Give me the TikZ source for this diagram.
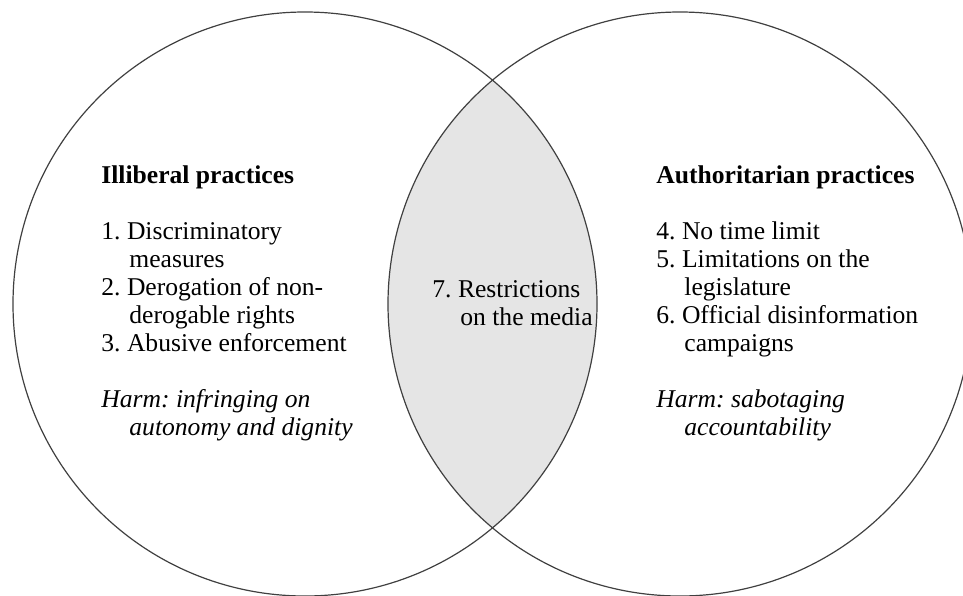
\documentclass[tikz,border=0pt]{standalone}
\usepackage{fontspec}
\setmainfont{Liberation Serif}
\usetikzlibrary{positioning}
\frenchspacing

\tikzset{
  block/.style={align=left, anchor=base west, inner sep=0pt, font=\fontsize{12.8}{14}\selectfont},
  ring/.style={draw=black!75, line width=0.6pt}
}
\newcommand{\cont}{\hspace*{14pt}}

\begin{document}
\begin{tikzpicture}[x=0.5pt,y=-0.5pt]
	\useasboundingbox (0,0) rectangle (963,595);
	\clip (0,0) rectangle (963,595);
	% shared part
	\begin{scope}
    \clip (305,304) circle(292);
    \fill[black!10] (680,304) circle(292);
	\end{scope}
	\draw[ring] (305,304) circle(292);
	\draw[ring] (680,304) circle(292);
	% base is the last line
	\node[block] (illiberal) at (101,435) {\textbf{Illiberal practices}\\[14pt]
	  1. Discriminatory\\ \cont measures\\
	  2. Derogation of non-\\ \cont derogable rights\\
	  3. Abusive enforcement\\[14pt]
	  \textit{Harm: infringing on}\\ \cont\textit{autonomy and dignity}};
	\node[block] (shared) at (432,325) {7. Restrictions\\ \cont on the media};
	\node[block] (authoritarian) at (656,435) {\textbf{Authoritarian practices}\\[14pt]
	  4. No time limit\\
	  5. Limitations on the\\ \cont legislature\\
	  6. Official disinformation\\ \cont campaigns\\[14pt]
	  \textit{Harm: sabotaging}\\ \cont\textit{accountability}};
\end{tikzpicture}
\end{document}
